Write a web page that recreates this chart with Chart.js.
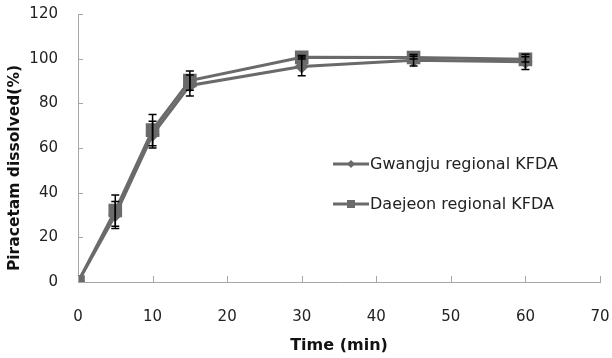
<!DOCTYPE html>
<html>
<head>
<meta charset="utf-8">
<script src="https://cdn.jsdelivr.net/npm/chart.js@4/dist/chart.umd.min.js"></script>
<style>
  html, body { margin: 0; padding: 0; background: #fff; }
  #wrap { width: 612px; height: 358px; position: relative; }
</style>
</head>
<body>
<div id="wrap"><canvas id="grafico" width="612" height="358"></canvas></div>
<script>
// dados de dissolução (tempo em minutos, % dissolvido)
const tempos = [0, 5, 10, 15, 30, 45, 60];
const gwangju = [0, 30.0, 66.0, 88.0, 96.5, 99.3, 98.6];
const gwangjuErro = [0, 6.0, 6.0, 4.7, 4.2, 2.6, 3.4];
const daejeon = [0, 32.0, 68.0, 90.2, 100.6, 100.5, 99.7];
const daejeonErro = [0, 7.0, 7.0, 4.3, 0.8, 0.6, 1.2];
const ticksX = [0, 10, 20, 30, 40, 50, 60, 70];
const ticksY = [0, 20, 40, 60, 80, 100, 120];

const cinza = '#6a6a6a';
const fonte = '"DejaVu Sans", sans-serif';

function pontos(ys) {
    return tempos.map((t, i) => ({ x: t, y: ys[i] }));
}

// barras de erro desenhadas por cima das linhas
const barrasErro = {
    id: 'barrasErro',
    afterDatasetsDraw(chart) {
        const { ctx, scales: { x, y } } = chart;
        const erros = [gwangjuErro, daejeonErro];
        ctx.save();
        ctx.strokeStyle = '#000';
        ctx.lineWidth = 1.5;
        chart.data.datasets.forEach((ds, d) => {
            ds.data.forEach((p, i) => {
                const e = erros[d][i];
                if (!e) return;
                const px = x.getPixelForValue(p.x);
                const y1 = y.getPixelForValue(p.y + e);
                const y2 = y.getPixelForValue(p.y - e);
                ctx.beginPath();
                ctx.moveTo(px, y1); ctx.lineTo(px, y2);
                ctx.moveTo(px - 4, y1); ctx.lineTo(px + 4, y1);
                ctx.moveTo(px - 4, y2); ctx.lineTo(px + 4, y2);
                ctx.stroke();
            });
        });
        ctx.restore();
    }
};

// marcas dos eixos para dentro, título do eixo Y e legenda
const enfeites = {
    id: 'enfeites',
    afterDraw(chart) {
        const { ctx, chartArea: a, scales: { x, y } } = chart;
        ctx.save();
        ctx.strokeStyle = '#a6a6a6';
        ctx.lineWidth = 1;
        ticksX.forEach(v => {
            const px = Math.round(x.getPixelForValue(v)) + 0.5;
            ctx.beginPath(); ctx.moveTo(px, a.bottom); ctx.lineTo(px, a.bottom - 6); ctx.stroke();
        });
        ticksY.forEach(v => {
            const py = Math.round(y.getPixelForValue(v)) + 0.5;
            ctx.beginPath(); ctx.moveTo(a.left, py); ctx.lineTo(a.left + 5, py); ctx.stroke();
        });

        ctx.fillStyle = '#111';
        ctx.font = 'bold 15.5px ' + fonte;
        ctx.textAlign = 'center';
        ctx.textBaseline = 'middle';
        ctx.translate(15, 168);
        ctx.rotate(-Math.PI / 2);
        ctx.fillText('Piracetam dissolved(%)', 0, 0);
        ctx.restore();

        ctx.save();
        const itens = chart.data.datasets;
        itens.forEach((ds, i) => {
            const ly = 164 + i * 40;
            ctx.strokeStyle = cinza;
            ctx.lineWidth = 3;
            ctx.beginPath(); ctx.moveTo(333, ly); ctx.lineTo(369, ly); ctx.stroke();
            ctx.fillStyle = cinza;
            if (ds.pointStyle === 'rect') {
                ctx.fillRect(347, ly - 4, 8, 8);
            } else {
                ctx.beginPath();
                ctx.moveTo(351, ly - 4); ctx.lineTo(355, ly); ctx.lineTo(351, ly + 4); ctx.lineTo(347, ly);
                ctx.closePath(); ctx.fill();
            }
            ctx.fillStyle = '#222';
            ctx.font = '16px ' + fonte;
            ctx.textAlign = 'left';
            ctx.textBaseline = 'middle';
            ctx.fillText(ds.label, 370, ly + 1);
        });
        ctx.restore();
    }
};

new Chart(document.getElementById('grafico').getContext('2d'), {
    type: 'scatter',
    data: {
        datasets: [
            {
                label: 'Gwangju regional KFDA',
                data: pontos(gwangju),
                showLine: true,
                borderColor: cinza,
                backgroundColor: cinza,
                borderWidth: 3,
                pointStyle: 'rectRot',
                pointRadius: 5,
                order: 1
            },
            {
                label: 'Daejeon regional KFDA',
                data: pontos(daejeon),
                showLine: true,
                borderColor: cinza,
                backgroundColor: cinza,
                borderWidth: 3,
                pointStyle: 'rect',
                pointRadius: 7.5,
                order: 0
            }
        ]
    },
    options: {
        responsive: false,
        animation: false,
        layout: { padding: { left: 0, top: 14, right: 12, bottom: 0 }, autoPadding: false },
        plugins: { legend: { display: false }, tooltip: { enabled: false } },
        scales: {
            x: {
                type: 'linear',
                min: 0, max: 70,
                afterBuildTicks: s => { s.ticks = ticksX.map(v => ({ value: v })); },
                afterFit: s => { s.height = 76; s.paddingLeft = 0; s.paddingRight = 0; },
                grid: { display: false, drawTicks: false },
                border: { display: true, color: '#a6a6a6', width: 1 },
                ticks: { padding: 26, color: '#222', font: { family: fonte, size: 15 } },
                title: {
                    display: true, text: 'Time (min)', color: '#111',
                    font: { family: fonte, size: 16, weight: 'bold' },
                    padding: { top: 0, bottom: 3 }
                }
            },
            y: {
                min: 0, max: 120,
                afterBuildTicks: s => { s.ticks = ticksY.map(v => ({ value: v })); },
                afterFit: s => { s.width = 78; s.paddingTop = 0; s.paddingBottom = 0; },
                grid: { display: false, drawTicks: false },
                border: { display: true, color: '#a6a6a6', width: 1 },
                ticks: { padding: 20, color: '#222', font: { family: fonte, size: 15 } }
            }
        }
    },
    plugins: [barrasErro, enfeites]
});
</script>
</body>
</html>
